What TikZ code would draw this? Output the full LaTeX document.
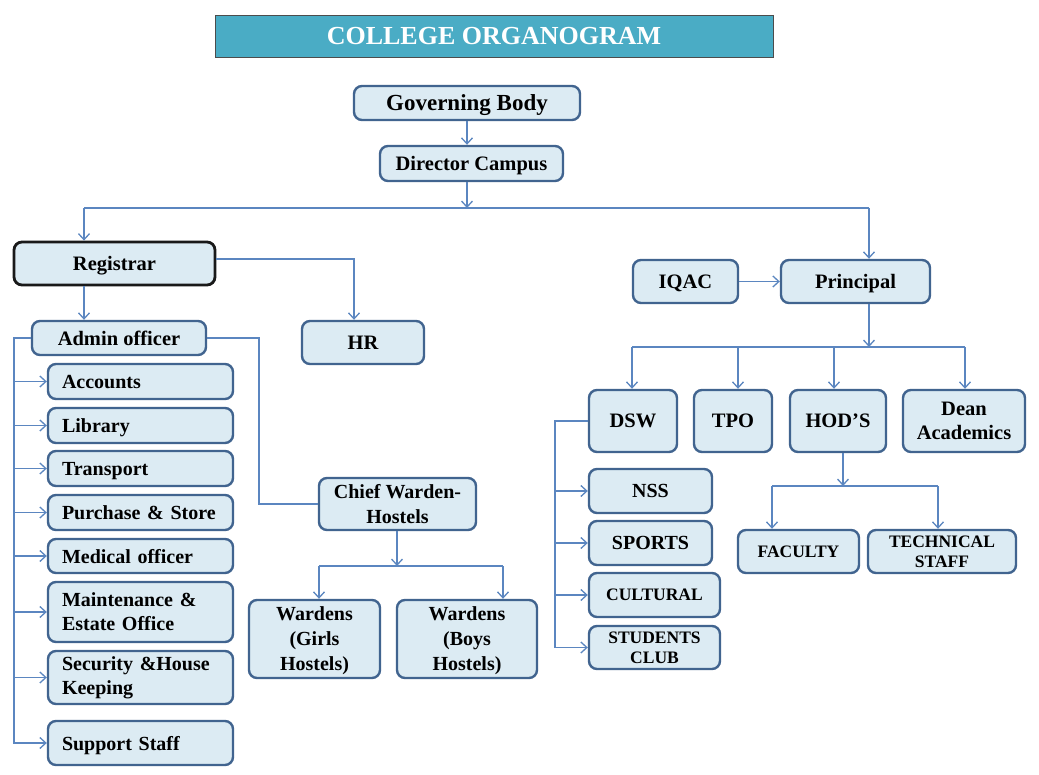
\documentclass[tikz,border=0pt]{standalone}
\usepackage{fontspec}
\setmainfont{Liberation Serif}
\usetikzlibrary{arrows.meta,calc}
\definecolor{boxfill}{HTML}{DCEBF3}
\definecolor{boxline}{HTML}{41648F}
\definecolor{conn}{HTML}{5B86C0}
\definecolor{titlefill}{HTML}{4AACC5}
\begin{document}
\begin{tikzpicture}[x=1pt,y=-1pt,
  box/.style={draw=boxline, line width=2.4pt, fill=boxfill, rounded corners=8pt,
    font=\bfseries\fontsize{20.5}{24}\selectfont, inner sep=0pt, align=center, text depth=0pt},
  lbox/.style={box, minimum width=185pt, text width=157pt, align=left, inner xsep=14pt,
    font=\bfseries\fontsize{20}{24}\selectfont},
  tbox/.style={lbox, text depth={}},
  sbox/.style={box, font=\bfseries\fontsize{17.5}{20}\selectfont},
  conn/.style={draw=conn, line width=1.3pt},
  arr/.style={conn, -{Straight Barb[length=6pt,width=11pt]}},
  every node/.append style={anchor=center}]
\useasboundingbox (0,0) rectangle (1039,775);
\fill[white] (0,0) rectangle (1039,775);
% title
\node[draw=black!70, line width=0.8pt, fill=titlefill, minimum width=558pt, minimum height=42pt,
  inner sep=0pt, font=\bfseries\fontsize{26}{28}\selectfont, text=white] (title) at (494,36) {COLLEGE ORGANOGRAM};
% top
\node[box, minimum width=226pt, minimum height=34pt, font=\bfseries\fontsize{23}{26}\selectfont] (gov) at (467,103) {Governing Body};
\node[box, minimum width=183pt, minimum height=35pt] (dir) at (471.5,163.5) {Director Campus};
\node[box, draw=black!90, line width=2.8pt, minimum width=201pt, minimum height=43pt] (reg) at (114.5,263.5) {Registrar};
\node[box, minimum width=122pt, minimum height=43pt] (hr) at (363,342.5) {HR};
\node[box, minimum width=174pt, minimum height=34pt] (adm) at (119,338) {Admin officer};
% left list
\node[lbox, minimum height=35pt] (acc) at (140.5,381.5) {Accounts};
\node[lbox, minimum height=35pt] (lib) at (140.5,425.5) {Library};
\node[lbox, minimum height=35pt] (tra) at (140.5,468.5) {Transport};
\node[lbox, minimum height=35pt] (pur) at (140.5,512.5) {Purchase \& Store};
\node[lbox, minimum height=34pt] (med) at (140.5,556) {Medical officer};
\node[tbox, minimum height=60pt] (mai) at (140.5,612) {Maintenance \&\\Estate Office};
\node[tbox, minimum height=53pt] (sec) at (140.5,677.5) {Security \&House\\Keeping};
\node[lbox, minimum height=44pt] (sup) at (140.5,743) {Support Staff};
% hostels
\node[box, minimum width=157pt, minimum height=52pt, font=\bfseries\fontsize{20}{25}\selectfont] (chief) at (397.5,504) {Chief Warden-\\Hostels};
\node[box, minimum width=131pt, minimum height=78pt, font=\bfseries\fontsize{20}{25}\selectfont] (wg) at (314.5,639) {Wardens\\(Girls\\Hostels)};
\node[box, minimum width=140pt, minimum height=78pt, font=\bfseries\fontsize{20}{25}\selectfont] (wb) at (467,639) {Wardens\\(Boys\\Hostels)};
% right side
\node[box, minimum width=105pt, minimum height=43pt] (iqac) at (685.5,281.5) {IQAC};
\node[box, minimum width=149pt, minimum height=43pt] (prin) at (855.5,281.5) {Principal};
\node[box, minimum width=88pt, minimum height=62pt] (dsw) at (633,421) {DSW};
\node[box, minimum width=78pt, minimum height=62pt] (tpo) at (733,421) {TPO};
\node[box, minimum width=96pt, minimum height=62pt] (hod) at (838,421) {HOD’S};
\node[box, minimum width=122pt, minimum height=62pt] (dean) at (964,421) {Dean\\Academics};
\node[box, minimum width=123pt, minimum height=44pt, font=\bfseries\fontsize{20}{24}\selectfont] (nss) at (650.5,491) {NSS};
\node[box, minimum width=123pt, minimum height=44pt, font=\bfseries\fontsize{20}{24}\selectfont] (spo) at (650.5,543) {SPORTS};
\node[sbox, minimum width=131pt, minimum height=44pt] (cul) at (654.5,595) {CULTURAL};
\node[sbox, minimum width=131pt, minimum height=43pt] (stc) at (654.5,647.5) {STUDENTS\\CLUB};
\node[sbox, minimum width=121pt, minimum height=43pt] (fac) at (798.5,551.5) {FACULTY};
\node[sbox, minimum width=148pt, minimum height=43pt] (tech) at (942,551.5) {TECHNICAL\\STAFF};
% coordinates
\coordinate (db) at (467,208);
\coordinate (bL) at (84,208);
\coordinate (bR) at (869,208);
\coordinate (lx) at (14,338);
\coordinate (rx) at (259,338);
\coordinate (hrx) at (354,259);
\coordinate (cb) at (397,566);
\coordinate (cbL) at (319,566);
\coordinate (cbR) at (503,566);
\coordinate (pb) at (869,347);
\coordinate (pbL) at (632,347);
\coordinate (pbT) at (738,347);
\coordinate (pbH) at (834,347);
\coordinate (pbR) at (965,347);
\coordinate (dx) at (555,421);
\coordinate (hb) at (843,486);
\coordinate (hbL) at (772,486);
\coordinate (hbR) at (938,486);
% connectors
\draw[arr] (gov.south) -- (gov.south |- dir.north);
\draw[arr] (db |- dir.south) -- (db);
\draw[conn] (bL) -- (bR);
\draw[arr] (bL) -- (bL |- reg.north);
\draw[arr] (bR) -- (bR |- prin.north);
\draw[arr] (bL |- reg.south) -- (bL |- adm.north);
\draw[arr] (reg.east |- hrx) -- (hrx) -- (hrx |- hr.north);
\foreach \c in {acc,lib,tra,pur,med,mai,sec,sup}
  \draw[arr] (adm.west) -- (lx) |- (\c.west);
\draw[conn] (adm.east) -- (rx) |- (chief.west);
\draw[arr] (cb |- chief.south) -- (cb);
\draw[conn] (cbL) -- (cbR);
\draw[arr] (cbL) -- (cbL |- wg.north);
\draw[arr] (cbR) -- (cbR |- wb.north);
\draw[arr] (iqac.east) -- (prin.west);
\draw[arr] (pb |- prin.south) -- (pb);
\draw[conn] (pbL) -- (pbR);
\draw[arr] (pbL) -- (pbL |- dsw.north);
\draw[arr] (pbT) -- (pbT |- tpo.north);
\draw[arr] (pbH) -- (pbH |- hod.north);
\draw[arr] (pbR) -- (pbR |- dean.north);
\foreach \c in {nss,spo,cul,stc}
  \draw[arr] (dsw.west) -- (dx) |- (\c.west);
\draw[arr] (hb |- hod.south) -- (hb);
\draw[conn] (hbL) -- (hbR);
\draw[arr] (hbL) -- (hbL |- fac.north);
\draw[arr] (hbR) -- (hbR |- tech.north);
\end{tikzpicture}
\end{document}
